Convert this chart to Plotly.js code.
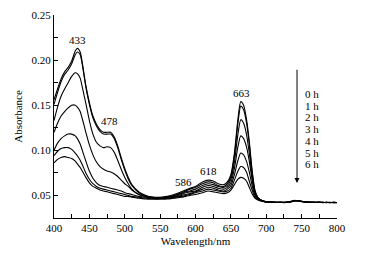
<!DOCTYPE html>
<html>
<head>
<meta charset="utf-8">
<script src="https://cdn.plot.ly/plotly-3.0.1.min.js"></script>
<style>html,body{margin:0;padding:0;background:#fff;}#chart{width:366px;height:259px;}</style>
</head>
<body>
<div id="chart"></div>
<script>
const wavelength = [400,405,410,415,420,425,430,433,437,440,445,450,455,460,465,470,475,480,485,490,495,500,505,510,520,530,540,550,560,570,580,586,592,600,610,618,625,632,640,645,650,655,660,664,668,672,676,680,684,688,695,700,705,710,715,720,725,730,735,740,745,750,755,760,765,770,775,780,785,790,795,800];

const abs0h = [.156,.168,.179,.187,.192,.199,.210,.213,.209,.197,.172,.153,.138,.129,.123,.120,.120,.120,.115,.105,.092,.080,.070,.062,.054,.050,.048,.048,.049,.051,.054,.056,.058,.060,.065,.067,.066,.063,.062,.065,.073,.097,.135,.154,.150,.135,.110,.078,.056,.048,
  .0440,.0432,.0427,.0425,.0423,.0426,.0422,.0426,.0433,.0444,.0441,.0434,.0430,.0426,.0425,.0422,.0426,.0421,.0424,.0420,.0423,.0421];
const abs1h = [.151,.164,.176,.184,.189,.196,.206,.209,.206,.195,.170,.151,.136,.127,.121,.118,.118,.118,.113,.103,.090,.078,.068,.061,.053,.049,.048,.047,.048,.050,.053,.055,.057,.059,.063,.065,.064,.061,.060,.063,.071,.094,.130,.149,.145,.131,.107,.076,.055,.048,
  .0438,.0430,.0428,.0423,.0425,.0422,.0425,.0424,.0431,.0442,.0443,.0432,.0428,.0427,.0422,.0424,.0423,.0423,.0421,.0422,.0420,.0422];
const abs2h = [.133,.148,.160,.168,.175,.182,.186,.185,.180,.170,.152,.133,.118,.109,.105,.103,.104,.103,.098,.089,.079,.070,.063,.057,.051,.049,.048,.047,.048,.050,.052,.054,.055,.057,.061,.063,.062,.060,.059,.061,.068,.087,.118,.134,.130,.118,.097,.071,.053,.047,
  .0439,.0431,.0426,.0426,.0422,.0424,.0423,.0427,.0434,.0445,.0439,.0435,.0427,.0424,.0426,.0421,.0425,.0422,.0422,.0421,.0424,.0420];
const abs3h = [.120,.130,.138,.143,.147,.150,.150,.148,.143,.135,.120,.106,.095,.087,.082,.079,.077,.076,.074,.071,.067,.063,.060,.056,.051,.049,.047,.047,.048,.049,.051,.053,.054,.055,.059,.061,.060,.058,.057,.059,.064,.080,.104,.116,.113,.104,.088,.067,.052,.047,
  .0437,.0429,.0427,.0424,.0424,.0423,.0421,.0425,.0432,.0441,.0442,.0433,.0429,.0425,.0423,.0425,.0422,.0424,.0420,.0423,.0421,.0422];
const abs4h = [.100,.108,.113,.116,.118,.118,.116,.113,.107,.100,.088,.077,.069,.064,.061,.060,.059,.058,.057,.056,.055,.053,.052,.051,.049,.048,.047,.047,.047,.048,.050,.051,.052,.054,.057,.059,.058,.056,.055,.057,.061,.073,.089,.097,.095,.088,.076,.061,.050,.046,
  .0436,.0428,.0425,.0424,.0421,.0425,.0422,.0424,.0430,.0440,.0440,.0434,.0428,.0426,.0424,.0422,.0424,.0421,.0423,.0420,.0422,.0421];
const abs5h = [.094,.099,.102,.103,.103,.101,.097,.094,.089,.084,.075,.068,.063,.060,.058,.057,.056,.055,.054,.053,.052,.051,.050,.049,.048,.047,.046,.046,.047,.048,.049,.050,.051,.053,.055,.057,.056,.055,.054,.055,.058,.067,.077,.082,.081,.076,.066,.056,.048,.046,
  .0436,.0430,.0426,.0422,.0424,.0421,.0424,.0423,.0431,.0442,.0438,.0431,.0429,.0424,.0425,.0423,.0421,.0423,.0422,.0421,.0423,.0420];
const abs6h = [.086,.090,.092,.093,.092,.091,.088,.085,.081,.077,.070,.064,.060,.058,.056,.055,.054,.053,.052,.051,.050,.049,.049,.048,.047,.046,.046,.046,.046,.047,.048,.049,.050,.051,.053,.055,.054,.053,.052,.053,.056,.062,.068,.070,.069,.066,.059,.052,.047,.045,
  .0435,.0429,.0424,.0425,.0422,.0423,.0420,.0425,.0429,.0439,.0441,.0432,.0427,.0425,.0422,.0424,.0423,.0420,.0424,.0422,.0420,.0421];

const seriesNames = ["0 h","1 h","2 h","3 h","4 h","5 h","6 h"];
const seriesValues = [abs0h, abs1h, abs2h, abs3h, abs4h, abs5h, abs6h];

const peakLabels = ["433","478","586","618","663"];
const peakX = [433, 478, 583, 618, 665];
const peakY = [0.222, 0.1325, 0.0652, 0.0771, 0.1639];

const arrowX = 743.5, arrowTop = 0.191, arrowTip = 0.0637;
const legendX = 752;
const legendYTop = 0.1624, legendYStep = 0.01297;

const FONT = "Liberation Serif, Times New Roman, serif";

const traces = seriesValues.map((vals, i) => ({
  x: wavelength, y: vals, name: seriesNames[i], type: "scatter", mode: "lines",
  line: {color: "#000", width: 1.1, shape: "spline", smoothing: 0.7},
  hoverinfo: "skip"
}));

const annotations = [];
peakLabels.forEach((t, i) => annotations.push({
  x: peakX[i], y: peakY[i], xref: "x", yref: "y", text: t, showarrow: false,
  font: {family: FONT, size: 11, color: "#000"}
}));
seriesNames.forEach((t, i) => annotations.push({
  x: legendX, y: legendYTop - i * legendYStep, xref: "x", yref: "y", text: t,
  showarrow: false, xanchor: "left", font: {family: FONT, size: 11, color: "#000"}
}));
annotations.push({
  x: arrowX, y: arrowTip, ax: arrowX, ay: arrowTop, xref: "x", yref: "y",
  axref: "x", ayref: "y", text: "", showarrow: true, arrowhead: 2,
  arrowsize: 1, arrowwidth: 1, arrowcolor: "#000", standoff: 0, startstandoff: 0
});

const layout = {
  width: 366, height: 259,
  margin: {l: 54, r: 29, t: 15, b: 41},
  paper_bgcolor: "#fff", plot_bgcolor: "#fff",
  showlegend: false,
  font: {family: FONT, size: 11, color: "#000"},
  xaxis: {
    range: [400, 800], tick0: 400, dtick: 50, ticks: "inside", ticklen: 4,
    tickcolor: "#000", showline: true, linecolor: "#000", linewidth: 1,
    showgrid: false, zeroline: false, mirror: false,
    minor: {dtick: 25, ticks: "inside", ticklen: 4, tickcolor: "#000", showgrid: false},
    tickfont: {family: FONT, size: 11, color: "#000"},
    title: {text: "Wavelength/nm", font: {family: FONT, size: 11, color: "#000"}, standoff: 4}
  },
  yaxis: {
    range: [0.025, 0.25], tick0: 0, dtick: 0.05, ticks: "inside", ticklen: 4,
    tickcolor: "#000", showline: true, linecolor: "#000", linewidth: 1,
    showgrid: false, zeroline: false, mirror: false, tickformat: ".2f",
    minor: {dtick: 0.025, ticks: "inside", ticklen: 4, tickcolor: "#000", showgrid: false},
    tickfont: {family: FONT, size: 11, color: "#000"},
    title: {text: "Absorbance", font: {family: FONT, size: 11, color: "#000"}, standoff: 6}
  },
  annotations: annotations
};

Plotly.newPlot("chart", traces, layout, {displayModeBar: false, staticPlot: true});
</script>
</body>
</html>
